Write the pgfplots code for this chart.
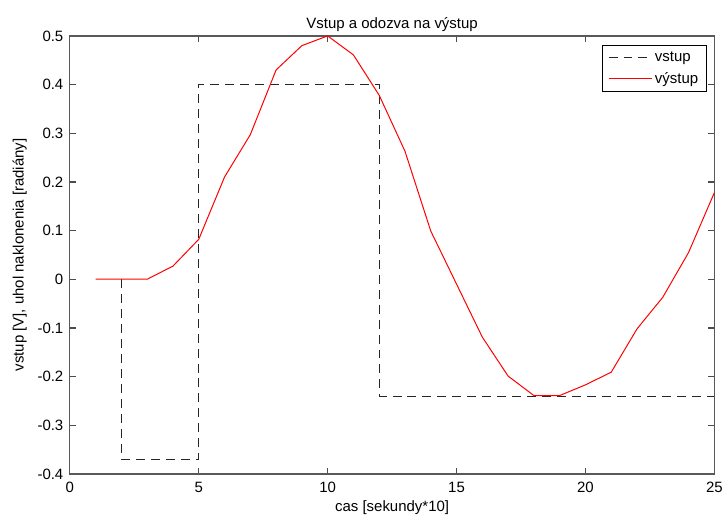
\documentclass[border=0pt]{standalone}
\usepackage{fontspec}
\setmainfont{Liberation Sans}
\usepackage{pgfplots}
\pgfplotsset{compat=1.18}
\begin{document}
\begin{tikzpicture}
\path (0pt,0pt) rectangle (726pt,522pt);
\begin{axis}[
  at={(70pt,47pt)}, anchor=south west,
  scale only axis, width=646pt, height=439pt,
  xmin=0, xmax=25, ymin=-0.4, ymax=0.5,
  xtick={0,5,10,15,20,25},
  ytick={-0.4,-0.3,-0.2,-0.1,0,0.1,0.2,0.3,0.4,0.5},
  yticklabels={-0.4,-0.3,-0.2,-0.1,0,0.1,0.2,0.3,0.4,0.5},
  xticklabels={0,5,10,15,20,25},
  major tick length=6pt,
  every major tick/.append style={black!70, line width=1.2pt},
  axis line style={black!65, line width=1.2pt},
  every tick label/.append style={font=\fontsize{15}{17}\selectfont},
  xticklabel style={yshift=-5pt},
  yticklabel style={xshift=-3pt},
  label style={font=\fontsize{15}{17}\selectfont},
  title style={font=\fontsize{15}{17}\selectfont, yshift=-5pt},
  title={Vstup a odozva na výstup},
  xlabel={cas [sekundy*10]},
  ylabel={vstup [V], uhol naklonenia [radiány]},
  xlabel style={yshift=-1pt},
  ylabel style={yshift=4pt},
  legend style={font=\fontsize{15}{17}\selectfont, draw=black, line width=0.9pt,
    inner xsep=6pt, inner ysep=4pt, at={(0.988,0.979)}, anchor=north east, row sep=6pt},
  legend cell align=left,
  legend image code/.code={\draw[#1] (0pt,0pt) -- (44pt,0pt);},
]
\addplot[black!85, line width=1pt, dash pattern=on 9pt off 6pt] coordinates {
 (2,0) (2,-0.37) (5,-0.37) (5,0.4) (12,0.4) (12,-0.24) (25,-0.24)};
\addlegendentry{vstup}
\addplot[red, line width=1pt] coordinates {
 (1,0) (2,0) (3,0) (4,0.027) (5,0.082) (6,0.21) (7,0.297) (8,0.43) (9,0.48) (10,0.5)
 (11,0.461) (12,0.378) (13,0.263) (14,0.099) (15,-0.01) (16,-0.119) (17,-0.199)
 (18,-0.239) (19,-0.239) (20,-0.217) (21,-0.191) (22,-0.102) (23,-0.037) (24,0.055) (25,0.178)};
\addlegendentry{výstup}
\end{axis}
\end{tikzpicture}
\end{document}
